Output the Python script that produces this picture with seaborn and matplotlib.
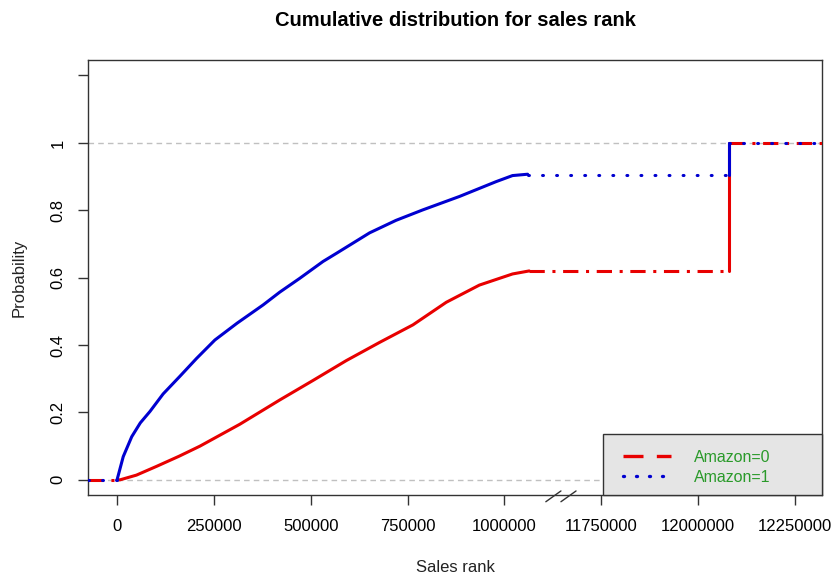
import numpy as np
import seaborn as sns
import matplotlib.pyplot as plt
from matplotlib.lines import Line2D
from matplotlib.patches import Rectangle

# ECDF points (rank, cumulative probability)
rank_amz0 = [0, 7700, 50000, 102000, 160000, 214000, 317000, 420000, 506000,
             592000, 678000, 764000, 850000, 935500, 1021000, 1064000]
prob_amz0 = [0, 0.0, 0.014, 0.04, 0.07, 0.10, 0.165, 0.237, 0.295,
             0.354, 0.408, 0.46, 0.527, 0.578, 0.611, 0.620]

rank_amz1 = [0, 16000, 37900, 60000, 85000, 119000, 162000, 205000, 252600,
             310000, 377000, 420000, 471600, 531700, 566000, 652000, 720000,
             789000, 884000, 978600, 1021000, 1060000]
prob_amz1 = [0, 0.069, 0.128, 0.169, 0.203, 0.255, 0.307, 0.36, 0.415,
             0.465, 0.519, 0.557, 0.598, 0.648, 0.672, 0.733, 0.77,
             0.801, 0.841, 0.885, 0.903, 0.907]

# after the last dense rank both curves stay flat until the jump at the top rank
plateau_amz0 = 0.62
plateau_amz1 = 0.905
jump_rank = 12080000
rank_min = -75000
rank_max = 12330000

xticks = [0, 250000, 500000, 750000, 1000000, 11750000, 12000000, 12250000]
yticks = [0, 0.2, 0.4, 0.6, 0.8, 1, 1.2]
ytick_labels = ["0", "0.2", "0.4", "0.6", "0.8", "1", ""]

# broken x axis: everything above GAP_START is shifted left by GAP_SIZE
GAP_START, GAP_SIZE = 1100000, 10500000


def squeeze(x):
    x = np.asarray(x, dtype=float)
    return np.where(x > GAP_START, x - GAP_SIZE, x)


sns.set_style("white")
plt.rcParams['font.family'] = ['Liberation Sans', 'DejaVu Sans']
plt.rcParams['text.color'] = 'black'

fig = plt.figure(figsize=(8.31, 5.75), dpi=100)
ax = fig.add_axes([88 / 831, 1 - 495 / 575, 734 / 831, 435 / 575])

ax.axhline(0, color='#c0c0c0', lw=1, ls=(0, (4, 3)), zorder=1)
ax.axhline(1, color='#c0c0c0', lw=1, ls=(0, (4, 3)), zorder=1)

red = '#e80000'
blue = '#0000d0'
groups = [
    (rank_amz0, prob_amz0, plateau_amz0, red, (5, 2.5, 1, 2.5), 'butt'),
    (rank_amz1, prob_amz1, plateau_amz1, blue, (0.3, 4.3), 'round'),
]

for rank, prob, plateau, col, dash, cap in groups:
    lw = 2.2
    # dense part of the ecdf looks solid
    sns.lineplot(x=squeeze(rank), y=prob, color=col, lw=lw,
                 estimator=None, sort=False, ax=ax, zorder=3)
    # flat parts show the line type
    flat_kw = dict(color=col, lw=lw, estimator=None, sort=False, ax=ax,
                   linestyle=(0, dash), dash_capstyle=cap, zorder=3)
    sns.lineplot(x=squeeze([rank_min, rank[0]]), y=[0, 0], **flat_kw)
    sns.lineplot(x=squeeze([rank[-1], jump_rank]), y=[plateau, plateau],
                 **flat_kw)
    sns.lineplot(x=squeeze([jump_rank, jump_rank]), y=[plateau, 1],
                 color=col, lw=lw, estimator=None, sort=False, ax=ax, zorder=3)
    sns.lineplot(x=squeeze([jump_rank, rank_max]), y=[1, 1], **flat_kw)

ax.set_xlim(squeeze(rank_min), squeeze(12320000))
ax.set_ylim(-0.045, 1.246)

ax.set_xticks(squeeze(xticks))
ax.set_xticklabels([str(t) for t in xticks])
ax.set_yticks(yticks)
ax.set_yticklabels(ytick_labels, rotation=90, va='center')
ax.tick_params(direction='out', length=7, width=1, color='#333333',
               labelsize=12, labelcolor='black', bottom=True, left=True)
ax.tick_params(axis='x', pad=10)
ax.tick_params(axis='y', pad=9)
for s in ax.spines.values():
    s.set_color('#333333')
    s.set_linewidth(1)

# break marks on the x axis
for x0 in [1107000, 1146000]:
    ax.plot([x0, x0 + 39000], [-0.065, -0.033], color='#333333', lw=1,
            clip_on=False, zorder=5)

ax.set_xlabel("Sales rank", fontsize=12, color='#222222')
ax.set_ylabel("Probability", fontsize=12, color='#222222')
ax.xaxis.set_label_coords(0.5, -0.15)
ax.yaxis.set_label_coords(-0.084, 0.5)

fig.text(455 / 831, 1 - 20 / 575, "Cumulative distribution for sales rank",
         ha='center', va='center', fontsize=14.5, fontweight='bold',
         color='black')

# legend box drawn separately so the entries can sit where the original has them
ax.add_patch(Rectangle((515 / 734, 0), 219 / 734, 61 / 435,
                       transform=ax.transAxes, facecolor='#e5e5e5',
                       edgecolor='#333333', lw=1, zorder=9, clip_on=False))
handles = [
    Line2D([0], [0], color=red, lw=2.4, linestyle=(0, (6, 4))),
    Line2D([0], [0], color=blue, lw=2.4, linestyle=(0, (0.3, 3.6)),
           dash_capstyle='round'),
]
leg = ax.legend(handles, ["Amazon=0", "Amazon=1"], loc='upper left',
                bbox_to_anchor=((623 - 88) / 734, (495 - 450) / 435),
                frameon=False, borderaxespad=0, borderpad=0,
                fontsize=11.5, handlelength=3.0, handletextpad=1.45,
                labelspacing=0.3)
for t in leg.get_texts():
    t.set_color('#2a9a2a')
leg.set_zorder(10)

fig.savefig('out.png', dpi=100)
